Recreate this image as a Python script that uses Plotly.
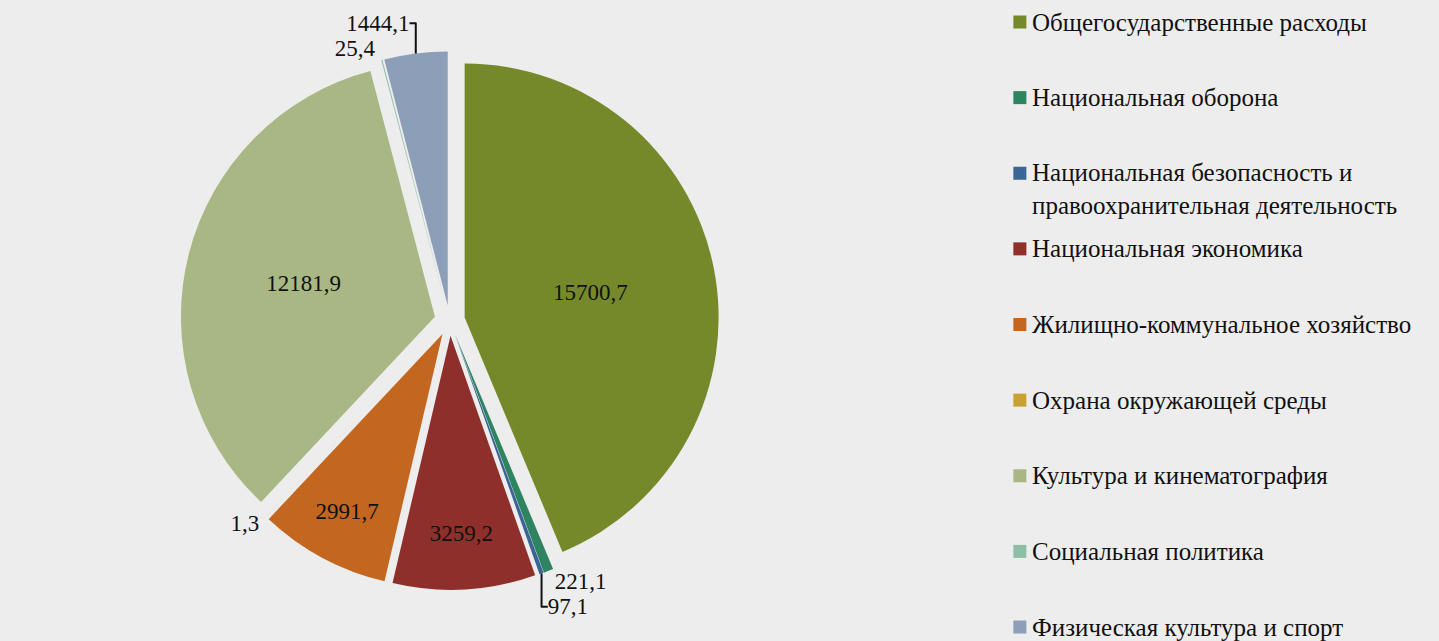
import plotly.graph_objects as go

categories = [
    "Общегосударственные расходы",
    "Национальная оборона",
    "Национальная безопасность и<br>правоохранительная деятельность",
    "Национальная экономика",
    "Жилищно-коммунальное хозяйство",
    "Охрана окружающей среды",
    "Культура и кинематография",
    "Социальная политика",
    "Физическая культура и спорт",
]
values = [15700.7, 221.1, 97.1, 3259.2, 2991.7, 1.3, 12181.9, 25.4, 1444.1]
colors = ["#76892A", "#2E8460", "#3A6596", "#8E2F2C", "#C3661F",
          "#C9A032", "#A8B783", "#8DBFA6", "#8C9EB8"]

labels_txt = [f"{v:.1f}".replace(".", ",") for v in values]
text_pos = ["inside" if v > 2000 else "outside" for v in values]

FONT = "Liberation Serif"

fig = go.Figure()
fig.add_trace(go.Pie(
    labels=[c.replace("<br>", " ") for c in categories],
    values=values,
    text=labels_txt,
    textinfo="text",
    textposition=text_pos,
    insidetextorientation="horizontal",
    textfont=dict(family=FONT, size=23, color="#111111"),
    marker=dict(colors=colors, line=dict(width=0)),
    pull=[0.06] * len(values),
    sort=False,
    direction="clockwise",
    rotation=0,
    automargin=False,
    showlegend=False,
    hoverinfo="skip",
    domain=dict(x=[0.0, 0.625], y=[0.08, 0.92]),
))

# legend drawn as a scatter (markers) on its own axes, labels as annotations
fig.add_trace(go.Scatter(
    x=[0] * len(categories),
    y=list(range(len(categories))),
    mode="markers",
    marker=dict(symbol="square", size=13, color=colors),
    cliponaxis=False,
    showlegend=False,
    hoverinfo="skip",
    xaxis="x", yaxis="y",
))
for i, c in enumerate(categories):
    two = "<br>" in c
    fig.add_annotation(
        x=0, y=i, xref="x", yref="y",
        text=c, showarrow=False, align="left",
        xanchor="left", yanchor="top" if two else "middle",
        xshift=10, yshift=16 if two else 0,
        font=dict(family=FONT, size=25, color="#111111"),
    )

fig.update_layout(
    width=1439, height=641,
    autosize=False,
    margin=dict(l=0, r=0, t=0, b=0, pad=0, autoexpand=False),
    paper_bgcolor="#EDEDED",
    plot_bgcolor="rgba(0,0,0,0)",
    xaxis=dict(domain=[0.7, 1.0], range=[-0.03, 1], autorange=False,
               visible=False, fixedrange=True),
    yaxis=dict(domain=[0, 1], range=[8.185, -0.291], autorange=False,
               visible=False, fixedrange=True),
)

fig.write_html("out.html")
